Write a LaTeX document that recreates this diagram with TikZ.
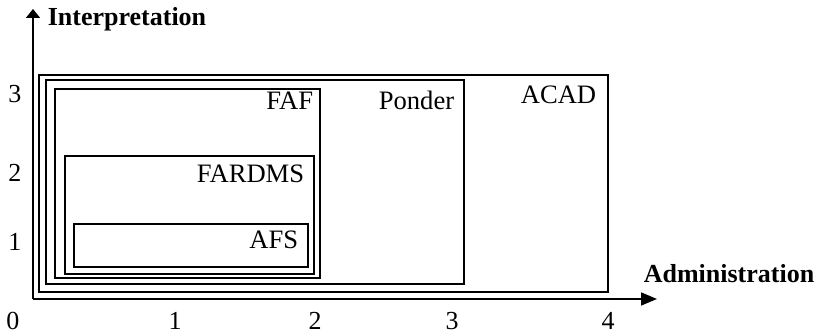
\documentclass[tikz,border=0pt]{standalone}
\usepackage{fontspec}
\setmainfont{Liberation Serif}
\usetikzlibrary{arrows.meta}
\tikzset{
  region/.style={draw,line width=1pt},
  tag/.style={anchor=base east,inner sep=0pt,font=\fontsize{13.3}{15}\selectfont},
  tick/.style={inner sep=0pt,font=\fontsize{13}{15}\selectfont},
  axisname/.style={inner sep=0pt,font=\fontsize{13}{15}\selectfont\bfseries}
}

\begin{document}
\begin{tikzpicture}[x=0.5pt,y=0.5pt,line width=0.8pt]
  \useasboundingbox (-33,-36) rectangle (787,299);
  \coordinate (o) at (0,0);
  \coordinate (ytip) at (0,290);
  \coordinate (xtip) at (624,0);
  \draw[-{Triangle[length=4.5pt,width=7pt]}] (o)--(ytip);
  \draw[-{Triangle[length=8pt,width=6.5pt]}] (o)--(xtip);
  \node[axisname,anchor=base west] (interp) at (14,273) {Interpretation};
  \node[axisname,anchor=base west] (admin) at (610,16) {Administration};
  \draw[region] (6,7) rectangle (574.5,224);
  \draw[region] (13.5,14.5) rectangle (430.5,219);
  \draw[region] (22,21) rectangle (287,210);
  \draw[region] (32,25.3) rectangle (281,143);
  \draw[region] (41,32) rectangle (274.5,75);
  \node[tag] (acad) at (564,195) {ACAD};
  \node[tag] (ponder) at (422,189) {Ponder};
  \node[tag] (faf) at (281,189) {FAF};
  \node[tag] (fardms) at (272,116) {FARDMS};
  \node[tag] (afs) at (266,50) {AFS};
  \node[tick] (x0) at (-20,-22) {0};
  \node[tick] (x1) at (142,-22) {1};
  \node[tick] (x2) at (282,-22) {2};
  \node[tick] (x3) at (419,-22) {3};
  \node[tick] (x4) at (575,-22) {4};
  \node[tick] (y1) at (-18,57) {1};
  \node[tick] (y2) at (-18,126) {2};
  \node[tick] (y3) at (-18,205) {3};
\end{tikzpicture}
\end{document}
